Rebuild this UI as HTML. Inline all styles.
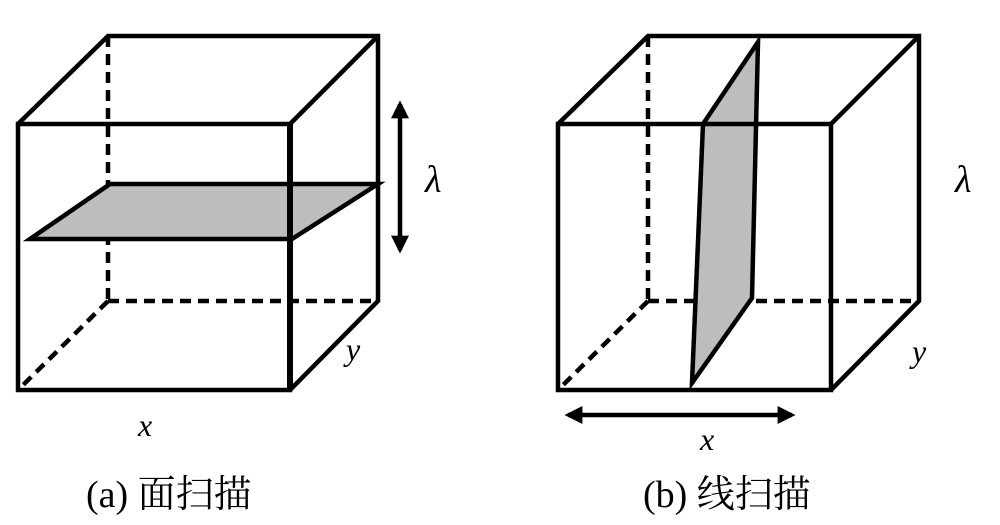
<!DOCTYPE html>
<html><head><meta charset="utf-8"><style>
html,body{margin:0;padding:0;background:#fff;width:1000px;height:525px;overflow:hidden}
</style></head><body>
<svg width="1000" height="525" viewBox="0 0 1000 525" xmlns="http://www.w3.org/2000/svg">
<defs>
<marker id="ah" viewBox="0 0 10 10" refX="8" refY="5" markerWidth="4" markerHeight="4" orient="auto-start-reverse"><path d="M0,0 L10,5 L0,10 z" fill="#000"/></marker>
</defs>
<g stroke="#000" stroke-width="4.5" fill="none" stroke-linejoin="miter">
<line x1="108" y1="36" x2="108" y2="301" stroke-dasharray="11,7"/>
<line x1="108" y1="301" x2="378" y2="301" stroke-dasharray="11,7"/>
<line x1="108" y1="301" x2="18" y2="390" stroke-dasharray="11,7"/>
<polygon points="30,239 110,184 378,184 292,239" fill="#bdbdbd"/>
<rect x="18" y="124" width="272" height="266"/>
<polyline points="18,124 108,36 378,36 378,301 290,390"/>
<line x1="290" y1="124" x2="378" y2="36"/>
<line x1="290" y1="124" x2="290" y2="390" stroke-width="6"/>
<line x1="400" y1="104" x2="400" y2="250" marker-start="url(#ah)" marker-end="url(#ah)"/>
<line x1="648" y1="36" x2="648" y2="301" stroke-dasharray="11,7"/>
<line x1="648" y1="301" x2="919" y2="301" stroke-dasharray="11,7"/>
<line x1="648" y1="301" x2="558" y2="390" stroke-dasharray="11,7"/>
<polygon points="703,124 758,42 752,298 692,383" fill="#bdbdbd"/>
<rect x="558" y="124" width="273" height="266"/>
<polyline points="558,124 648,36 919,36 919,301 831,390"/>
<line x1="831" y1="124" x2="919" y2="36"/>
<line x1="568" y1="415" x2="792" y2="415" marker-start="url(#ah)" marker-end="url(#ah)"/>
</g>
<g font-family="Liberation Serif, serif" font-style="italic" font-size="32" fill="#000">
<text x="425" y="192" font-size="38">λ</text>
<text x="346" y="360">y</text>
<text x="138" y="436">x</text>
<text x="955" y="192" font-size="38">λ</text>
<text x="912" y="362">y</text>
<text x="700" y="450">x</text>
</g>
<g font-family="Liberation Serif, 'Noto Serif CJK SC', serif" font-size="38" fill="#000">
<text x="86" y="507">(a) 面扫描</text>
<text x="643" y="507">(b) 线扫描</text>
</g>
</svg>
</body></html>
